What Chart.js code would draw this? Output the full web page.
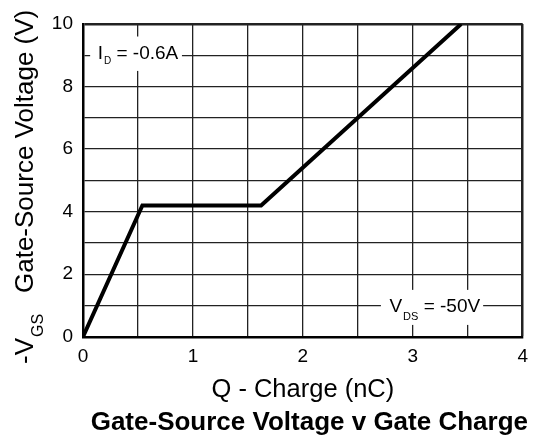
<!DOCTYPE html>
<html>
<head>
<meta charset="utf-8">
<script src="https://cdn.jsdelivr.net/npm/chart.js@4/dist/chart.umd.min.js"></script>
<style>
  html, body { margin: 0; padding: 0; background: #fff; }
  #wrap { width: 537px; height: 439px; }
</style>
</head>
<body>
<div id="wrap"><canvas id="c" width="537" height="439"></canvas></div>
<script>
// ---- data ----
const chargeNC = [0, 0.54, 1.62, 3.44];
const vgsVolts = [0, 4.2, 4.2, 10];
const xTickLabels = [0, 1, 2, 3, 4];
const yTickLabels = [0, 2, 4, 6, 8, 10];
const titleText = 'Gate-Source Voltage v Gate Charge';
const xTitleText = 'Q - Charge (nC)';
const yTitleMain = 'Gate-Source Voltage (V)';
const idLabel = ['I', 'D', ' = -0.6A'];
const vdsLabel = ['V', 'DS', ' = -50V'];

const FONT = '"Liberation Sans", Arial, Helvetica, sans-serif';

const points = chargeNC.map((x, i) => ({ x: x, y: vgsVolts[i] }));

function drawSubLabel(ctx, parts, cx, cy, mainSize, subSize, subDrop) {
  ctx.save();
  ctx.font = mainSize + 'px ' + FONT;
  const w1 = ctx.measureText(parts[0]).width;
  const w3 = ctx.measureText(parts[2]).width;
  ctx.font = subSize + 'px ' + FONT;
  const w2 = ctx.measureText(parts[1]).width + 1;
  const total = w1 + w2 + w3;
  const baseline = cy + mainSize * 0.716 / 2;
  let x = cx - total / 2;
  ctx.fillStyle = '#000';
  ctx.textBaseline = 'alphabetic';
  ctx.textAlign = 'left';
  ctx.font = mainSize + 'px ' + FONT;
  ctx.fillText(parts[0], x, baseline);
  x += w1 + 1;
  ctx.font = subSize + 'px ' + FONT;
  ctx.fillText(parts[1], x, baseline + subDrop);
  x += w2 - 1;
  ctx.font = mainSize + 'px ' + FONT;
  ctx.fillText(parts[2], x, baseline);
  ctx.restore();
}

const annotations = {
  id: 'annotations',
  beforeDatasetsDraw(chart) {
    const ctx = chart.ctx;
    const xs = chart.scales.x, ys = chart.scales.y;
    ctx.save();
    ctx.fillStyle = '#fff';
    // I_D box
    let l = xs.getPixelForValue(0.065), r = xs.getPixelForValue(0.9);
    let t = ys.getPixelForValue(9.6), b = ys.getPixelForValue(8.5);
    ctx.fillRect(l, t, r - l, b - t);
    // V_DS box
    l = xs.getPixelForValue(2.71); r = xs.getPixelForValue(3.64);
    t = ys.getPixelForValue(1.5); b = ys.getPixelForValue(0.38);
    ctx.fillRect(l, t, r - l, b - t);
    ctx.restore();
    drawSubLabel(ctx, idLabel, xs.getPixelForValue(0.5), ys.getPixelForValue(9.1), 19, 10, 5);
    drawSubLabel(ctx, vdsLabel, xs.getPixelForValue(3.2), ys.getPixelForValue(1.0), 19, 11, 8);
  },
  afterDraw(chart) {
    const ctx = chart.ctx;
    ctx.save();
    ctx.translate(33, 364);
    ctx.rotate(-Math.PI / 2);
    ctx.fillStyle = '#000';
    ctx.textBaseline = 'alphabetic';
    ctx.textAlign = 'left';
    ctx.font = '26px ' + FONT;
    ctx.fillText('-V', 0, 0);
    const w1 = ctx.measureText('-V').width;
    ctx.font = '16px ' + FONT;
    ctx.fillText('GS', w1 + 1, 10);
    ctx.font = '26px ' + FONT;
    ctx.fillText(yTitleMain, 71, 0);
    ctx.restore();
  }
};

new Chart(document.getElementById('c'), {
  type: 'scatter',
  data: {
    datasets: [{
      data: points,
      showLine: true,
      borderColor: '#000',
      borderWidth: 4,
      pointRadius: 0,
      pointHoverRadius: 0,
      fill: false,
      tension: 0
    }]
  },
  options: {
    responsive: false,
    animation: false,
    events: [],
    layout: { padding: { top: 24, right: 9, left: 0, bottom: 0 } },
    plugins: {
      legend: { display: false },
      tooltip: { enabled: false },
      title: {
        display: true,
        position: 'bottom',
        align: 'end',
        text: titleText,
        color: '#000',
        font: { family: FONT, size: 26, weight: 'bold' },
        padding: { top: 0, bottom: 1 }
      }
    },
    scales: {
      x: {
        type: 'linear',
        min: 0, max: 4,
        afterFit(s) { s.height = 70; },
        afterBuildTicks(s) {
          const t = [];
          for (let v = 0; v <= 4.0001; v += 0.5) t.push({ value: Math.round(v * 2) / 2 });
          s.ticks = t;
        },
        ticks: {
          autoSkip: false, maxRotation: 0, padding: 9, color: '#000',
          font: { family: FONT, size: 19 },
          callback: (v) => xTickLabels.includes(v) ? String(v) : ''
        },
        grid: {
          drawTicks: false,
          color: '#222',
          lineWidth: (c) => (c.tick && c.tick.value === 4) ? 2.5 : 1.3
        },
        border: { display: true, color: '#000', width: 2.5 },
        title: {
          display: true, text: xTitleText, color: '#000',
          font: { family: FONT, size: 25.5 },
          padding: { top: 0, bottom: 2 }
        }
      },
      y: {
        type: 'linear',
        min: 0, max: 10,
        afterFit(s) { s.width = 83; },
        afterBuildTicks(s) {
          const t = [];
          for (let v = 0; v <= 10; v += 1) t.push({ value: v });
          s.ticks = t;
        },
        ticks: {
          autoSkip: false, padding: 10, color: '#000',
          font: { family: FONT, size: 19 },
          callback: (v) => yTickLabels.includes(v) ? String(v) : ''
        },
        grid: {
          drawTicks: false,
          color: '#222',
          lineWidth: (c) => (c.tick && c.tick.value === 10) ? 2.5 : 1.3
        },
        border: { display: true, color: '#000', width: 2.5 }
      }
    }
  },
  plugins: [annotations]
});
</script>
</body>
</html>
